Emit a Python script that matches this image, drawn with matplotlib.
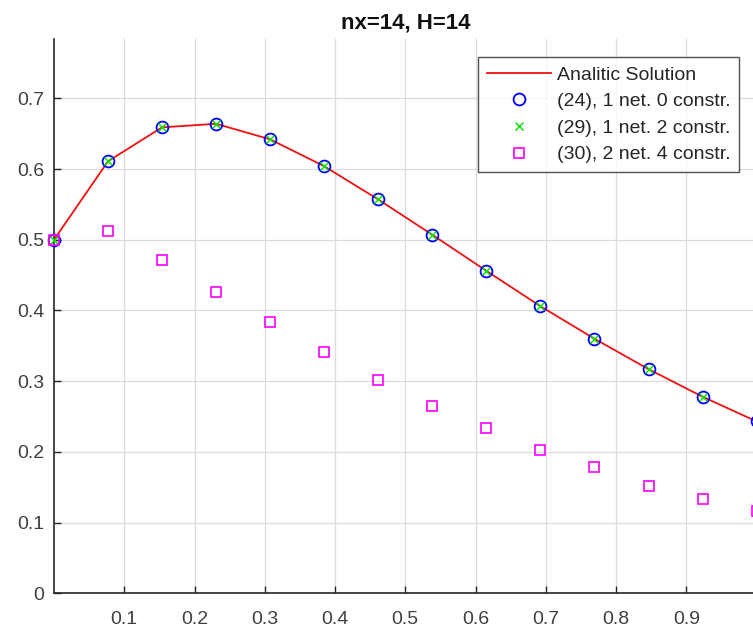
import matplotlib
matplotlib.use('Agg')
import matplotlib.pyplot as plt

# grid points and solutions
x = [0.0, 0.0769, 0.1538, 0.2308, 0.3077, 0.3846, 0.4615,
     0.5385, 0.6154, 0.6923, 0.7692, 0.8462, 0.9231, 1.0]
analytic = [0.500, 0.611, 0.659, 0.664, 0.642, 0.604, 0.557,
            0.507, 0.456, 0.406, 0.360, 0.317, 0.278, 0.243]
net24 = [0.500, 0.611, 0.659, 0.664, 0.642, 0.604, 0.557,
         0.507, 0.456, 0.406, 0.360, 0.317, 0.278, 0.243]
net29 = [0.500, 0.611, 0.659, 0.664, 0.642, 0.604, 0.557,
         0.507, 0.456, 0.406, 0.360, 0.317, 0.278, 0.243]
net30 = [0.500, 0.513, 0.472, 0.426, 0.383, 0.341, 0.301,
         0.265, 0.234, 0.203, 0.178, 0.152, 0.134, 0.116]

labels = ['Analitic Solution', '(24), 1 net. 0 constr.',
          '(29), 1 net. 2 constr.', '(30), 2 net. 4 constr.']
xticks = [0.1, 0.2, 0.3, 0.4, 0.5, 0.6, 0.7, 0.8, 0.9, 1.0]
xticklabels = ['0.1', '0.2', '0.3', '0.4', '0.5', '0.6', '0.7', '0.8', '0.9', '1']
yticks = [0, 0.1, 0.2, 0.3, 0.4, 0.5, 0.6, 0.7]
yticklabels = ['0', '0.1', '0.2', '0.3', '0.4', '0.5', '0.6', '0.7']

plt.rcParams['font.family'] = ['Liberation Sans', 'DejaVu Sans']

fig = plt.figure(figsize=(7.53, 6.30), dpi=100)
ax = fig.add_axes([0.0717, 0.0583, 0.9331, 0.8793])

ax.plot(x, analytic, color='#f01010', lw=1.3, label=labels[0], zorder=3)
ax.plot(x, net24, 'o', ms=8.5, mfc='none', mec='#0000ff', mew=1.3,
        label=labels[1], clip_on=False, zorder=4)
ax.plot(x, net29, 'x', ms=6, color='#00e000', mew=1.0,
        label=labels[2], clip_on=False, zorder=5)
ax.plot(x, net30, 's', ms=7, mfc='none', mec='#ff00ff', mew=1.2,
        label=labels[3], clip_on=False, zorder=6)

ax.set_xlim(0, 1)
ax.set_ylim(0, 0.7835)
ax.set_xticks(xticks)
ax.set_xticklabels(xticklabels)
ax.set_yticks(yticks)
ax.set_yticklabels(yticklabels)

ax.grid(True, color='#dcdcdc', lw=0.9)
ax.set_axisbelow(True)
for side in ['top', 'right']:
    ax.spines[side].set_visible(False)
for side in ['left', 'bottom']:
    ax.spines[side].set_color('#262626')
    ax.spines[side].set_linewidth(1.2)

ax.tick_params(direction='in', length=5, width=1.0, colors='#262626',
               labelsize=14, labelcolor='#404040')
ax.tick_params(axis='y', pad=7)
ax.tick_params(axis='x', pad=13)

ax.set_title('nx=14, H=14', fontsize=16, fontweight='bold',
             color='#111111', pad=8)

leg = ax.legend(loc='upper right', bbox_to_anchor=(0.9754, 0.9675),
                fontsize=14, frameon=True, fancybox=False, borderpad=0.45,
                handlelength=3.3, handletextpad=0.3, labelspacing=0.46,
                borderaxespad=0)
leg.get_frame().set_edgecolor('#262626')
leg.get_frame().set_linewidth(1.0)
for t in leg.get_texts():
    t.set_color('#262626')

plt.savefig('out.png', dpi=100)
